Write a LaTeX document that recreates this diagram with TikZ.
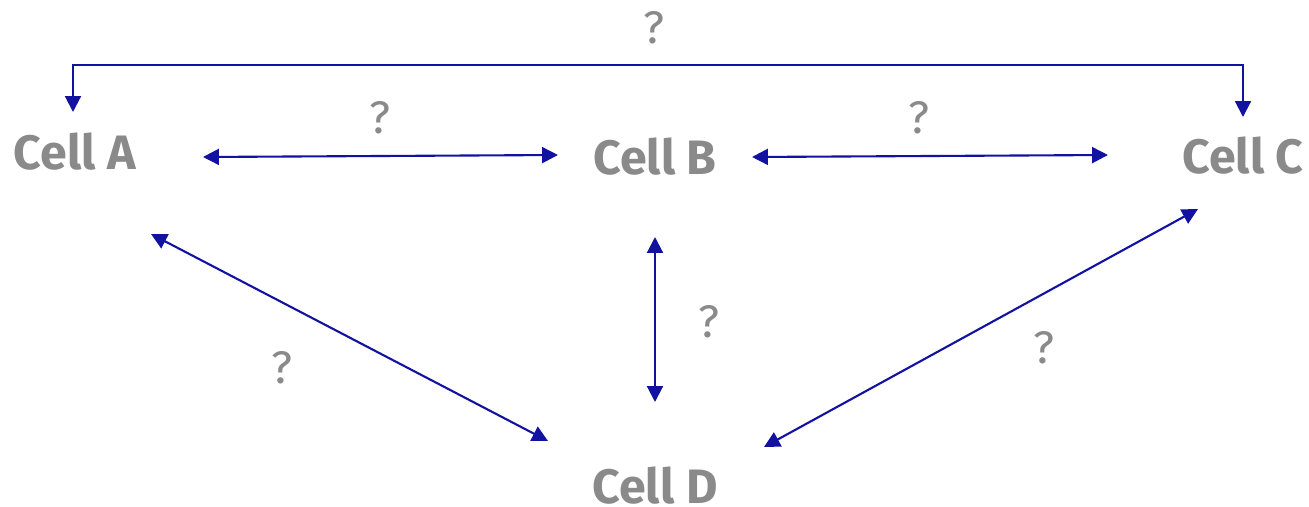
\documentclass[tikz,border=0pt]{standalone}
\usepackage{fontspec}
\setmainfont{Fira Sans}
\usetikzlibrary{arrows.meta}
\definecolor{LinkBlue}{HTML}{1212A0}
\definecolor{CellGray}{HTML}{8A8A8A}

\tikzset{
  cell/.style={text=CellGray,font=\fontsize{27.5}{30}\selectfont\bfseries,inner sep=0pt},
  ask/.style={text=CellGray,font=\fontsize{26}{30}\selectfont,inner sep=0pt},
  link/.style={LinkBlue,line width=1.2pt,{Triangle[length=9pt,width=9pt]}-{Triangle[length=9pt,width=9pt]}}
}

\begin{document}
\begin{tikzpicture}[x=0.02cm,y=-0.02cm]
  \useasboundingbox (0,0) rectangle (1309,507);
  % the four cells
  \node[cell] (cellA) at (75,152) {Cell A};
  \node[cell] (cellB) at (655,157) {Cell B};
  \node[cell] (cellC) at (1243,156) {Cell C};
  \node[cell] (cellD) at (655,486) {Cell D};
  % unknown interactions
  \node[ask] (qAC) at (654,28) {?};
  \node[ask] (qAB) at (380,118) {?};
  \node[ask] (qBC) at (919,118) {?};
  \node[ask] (qBD) at (709,322) {?};
  \node[ask] (qAD) at (282,368) {?};
  \node[ask] (qCD) at (1044,348) {?};
  % links
  \coordinate (over) at (655,65);
  \draw[link] ([shift={(-2,-40)}]cellA.center) |- (over) -| ([shift={(0,-39)}]cellC.center);
  \draw[link] ([shift={(128,5)}]cellA.center) -- ([shift={(-97,-2)}]cellB.center);
  \draw[link] ([shift={(97,0)}]cellB.center) -- ([shift={(-135,-1)}]cellC.center);
  \draw[link] ([shift={(0,80)}]cellB.center) -- ([shift={(0,-84)}]cellD.center);
  \draw[link] ([shift={(76,82)}]cellA.center) -- ([shift={(-107,-45)}]cellD.center);
  \draw[link] ([shift={(-45,53)}]cellC.center) -- ([shift={(109,-39)}]cellD.center);
\end{tikzpicture}
\end{document}
